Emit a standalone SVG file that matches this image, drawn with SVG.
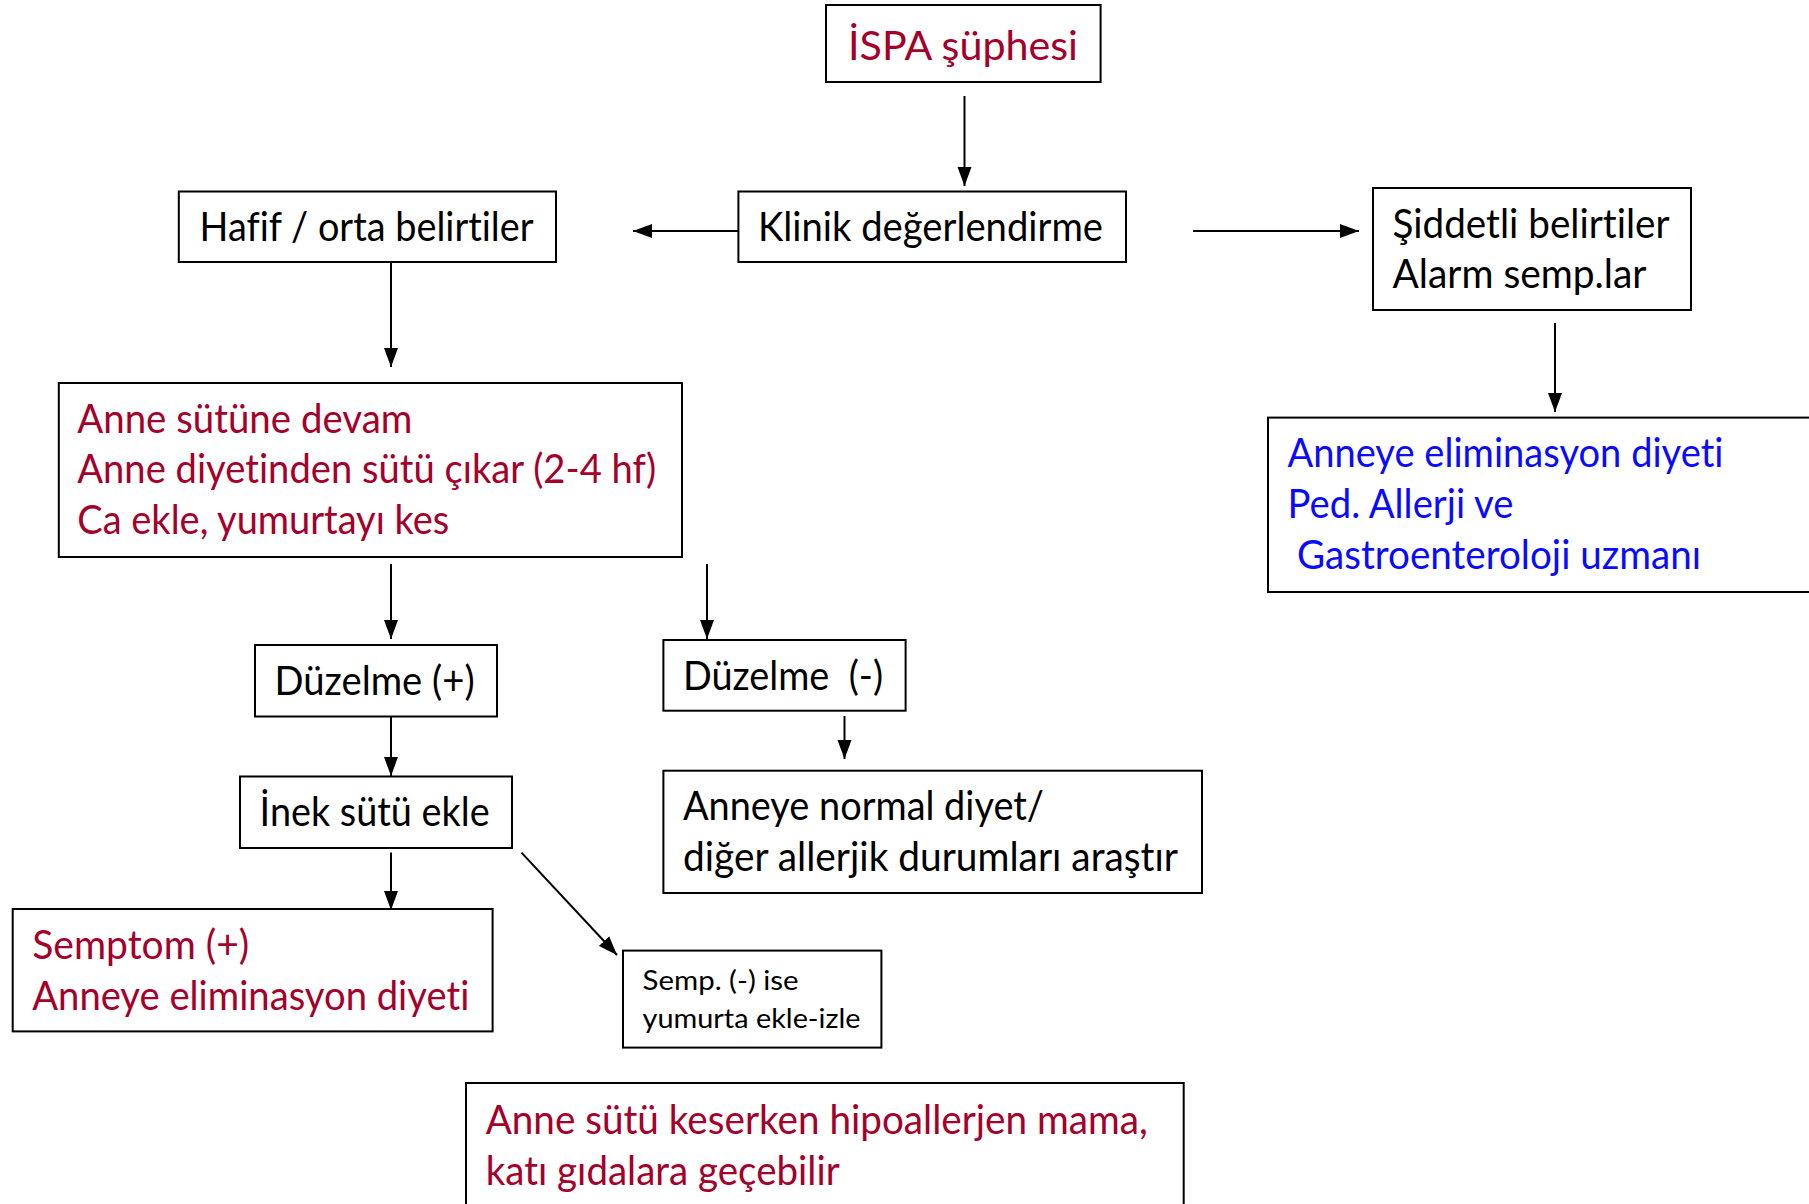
<svg xmlns="http://www.w3.org/2000/svg" width="1809" height="1204" viewBox="0 0 1809 1204">
<style>
.box{fill:#fff;stroke:#000;stroke-width:2}
text{font-family:Lato,"Open Sans","Liberation Sans",sans-serif;font-size:40px;fill:#000;font-variant-ligatures:none;font-feature-settings:"liga" 0,"clig" 0}
.red{fill:#a5002a}
.blue{fill:#0a0aff}
.sm{font-size:27px}
.edge{stroke:#000;stroke-width:2;fill:none;marker-end:url(#ah)}
</style>
<defs>
<marker id="ah" markerUnits="userSpaceOnUse" markerWidth="20" markerHeight="16" viewBox="0 0 20 16" refX="19" refY="8" orient="auto">
<path d="M0,1 L19,8 L0,15 Z" fill="#000"/>
</marker>
</defs>
<rect width="1809" height="1204" fill="#fff"/>
<g id="connectors">
<line class="edge" x1="964.5" y1="96" x2="964.5" y2="186"/>
<line class="edge" x1="738" y1="231" x2="633" y2="231"/>
<line class="edge" x1="1193" y1="231" x2="1359" y2="231"/>
<line class="edge" x1="1555" y1="323" x2="1555" y2="412"/>
<line class="edge" x1="391" y1="262" x2="391" y2="367"/>
<line class="edge" x1="391" y1="564" x2="391" y2="639"/>
<line class="edge" x1="707" y1="564" x2="707" y2="639"/>
<line class="edge" x1="844.5" y1="716" x2="844.5" y2="759"/>
<line class="edge" x1="391" y1="716.5" x2="391" y2="776"/>
<line class="edge" x1="391" y1="852.6" x2="391" y2="910"/>
<line class="edge" x1="521.5" y1="852.6" x2="617" y2="955"/>
</g>
<g id="ispa">
<rect class="box" x="826" y="5" width="274.6" height="77"/>
<text class="red" x="848" y="60" textLength="230" lengthAdjust="spacingAndGlyphs">İSPA şüphesi</text>
</g>
<g id="klinik">
<rect class="box" x="738.4" y="191.5" width="387.6" height="70.5"/>
<text x="758" y="241" textLength="345" lengthAdjust="spacingAndGlyphs">Klinik değerlendirme</text>
</g>
<g id="hafif">
<rect class="box" x="178.8" y="191.5" width="377.2" height="70.5"/>
<text x="199.6" y="241" textLength="334" lengthAdjust="spacingAndGlyphs">Hafif / orta belirtiler</text>
</g>
<g id="siddetli">
<rect class="box" x="1373" y="188" width="318" height="122"/>
<text x="1392.5" y="237.5" textLength="277" lengthAdjust="spacingAndGlyphs">Şiddetli belirtiler</text>
<text x="1392.5" y="288.4" textLength="254" lengthAdjust="spacingAndGlyphs">Alarm semp.lar</text>
</g>
<g id="uzman">
<rect class="box" x="1268" y="417.6" width="560" height="174.4"/>
<text class="blue" x="1287.5" y="467" textLength="436" lengthAdjust="spacingAndGlyphs">Anneye eliminasyon diyeti</text>
<text class="blue" x="1287.5" y="518" textLength="226" lengthAdjust="spacingAndGlyphs">Ped. Allerji ve</text>
<text class="blue" x="1297" y="569" textLength="404" lengthAdjust="spacingAndGlyphs">Gastroenteroloji uzmanı</text>
</g>
<g id="anne">
<rect class="box" x="58.8" y="383" width="623.2" height="174"/>
<text class="red" x="77.3" y="432.6" textLength="335" lengthAdjust="spacingAndGlyphs">Anne sütüne devam</text>
<text class="red" x="77.3" y="483.4" textLength="579" lengthAdjust="spacingAndGlyphs">Anne diyetinden sütü çıkar (2-4 hf)</text>
<text class="red" x="77.3" y="534" textLength="372" lengthAdjust="spacingAndGlyphs">Ca ekle, yumurtayı kes</text>
</g>
<g id="duzelme-arti">
<rect class="box" x="255" y="645" width="242" height="71.5"/>
<text x="274.6" y="695" textLength="200" lengthAdjust="spacingAndGlyphs">Düzelme (+)</text>
</g>
<g id="duzelme-eksi">
<rect class="box" x="663.4" y="640" width="242.2" height="70.7"/>
<text x="683" y="690" textLength="200" lengthAdjust="spacingAndGlyphs" xml:space="preserve">Düzelme  (-)</text>
</g>
<g id="normal-diyet">
<rect class="box" x="663.4" y="770.7" width="538.6" height="122.3"/>
<text x="683" y="820" textLength="361" lengthAdjust="spacingAndGlyphs">Anneye normal diyet/</text>
<text x="683" y="871" textLength="495" lengthAdjust="spacingAndGlyphs">diğer allerjik durumları araştır</text>
</g>
<g id="inek">
<rect class="box" x="240" y="776.5" width="272" height="71.5"/>
<text x="259.6" y="826" textLength="230" lengthAdjust="spacingAndGlyphs">İnek sütü ekle</text>
</g>
<g id="semptom">
<rect class="box" x="12.7" y="909" width="479.9" height="122.4"/>
<text class="red" x="32.3" y="958.7" textLength="217" lengthAdjust="spacingAndGlyphs">Semptom (+)</text>
<text class="red" x="32.3" y="1009.5" textLength="437" lengthAdjust="spacingAndGlyphs">Anneye eliminasyon diyeti</text>
</g>
<g id="semp-eksi">
<rect class="box" x="623" y="950.6" width="258.4" height="97"/>
<text class="sm" x="642.6" y="990" textLength="156" lengthAdjust="spacingAndGlyphs">Semp. (-) ise</text>
<text class="sm" x="642.6" y="1028" textLength="218" lengthAdjust="spacingAndGlyphs">yumurta ekle-izle</text>
</g>
<g id="hipoallerjen">
<rect class="box" x="466" y="1083" width="717.7" height="140"/>
<text class="red" x="485.7" y="1134" textLength="662" lengthAdjust="spacingAndGlyphs">Anne sütü keserken hipoallerjen mama,</text>
<text class="red" x="485.7" y="1185" textLength="354" lengthAdjust="spacingAndGlyphs">katı gıdalara geçebilir</text>
</g>
</svg>
